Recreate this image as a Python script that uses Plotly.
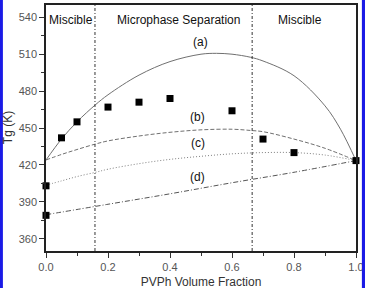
import plotly.graph_objects as go

# Experimental Tg data (squares)
exp_x = [0.0, 0.0, 0.05, 0.1, 0.2, 0.3, 0.4, 0.6, 0.7, 0.8, 1.0]
exp_y = [403, 379, 442, 455, 467, 471, 474, 464, 441, 430, 423.5]

# Theoretical curves
a_x = [0.0, 0.05, 0.1, 0.16, 0.2, 0.3, 0.4, 0.5, 0.55, 0.6, 0.66, 0.7, 0.8, 0.9, 0.95, 1.0]
a_y = [424, 441, 455, 469, 477, 493, 504, 510, 510.7, 510, 507.5, 504.5, 492.5, 468, 449, 423.5]

b_x = [0.0, 0.05, 0.1, 0.16, 0.2, 0.3, 0.4, 0.5, 0.6, 0.66, 0.7, 0.8, 0.9, 1.0]
b_y = [424, 428.5, 432.5, 437, 439.5, 443.5, 446.5, 448.5, 449, 448, 447, 441, 433.5, 423.5]

c_x = [0.0, 0.05, 0.1, 0.16, 0.2, 0.3, 0.4, 0.5, 0.6, 0.7, 0.8, 0.9, 1.0]
c_y = [403.5, 407, 410.5, 414, 416.5, 421, 424.5, 427, 429, 430, 430, 428, 423.5]

d_x = [0.0, 0.2, 0.4, 0.6, 0.8, 1.0]
d_y = [379.5, 388, 396.5, 405.5, 414, 423.5]

# Region boundaries
boundaries = [0.158, 0.665]

# Text labels
region_labels = ["Miscible", "Microphase Separation", "Miscible"]
region_x = [0.08, 0.426, 0.818]
region_y = [538, 538, 538]
curve_labels = ["(a)", "(b)", "(c)", "(d)"]
curve_lx = [0.498, 0.49, 0.49, 0.49]
curve_ly = [520, 459, 438, 410.5]

FONT = "Liberation Sans, Arial, sans-serif"

fig = go.Figure()
fig.add_trace(go.Scatter(x=a_x, y=a_y, mode="lines", line=dict(color="#707070", width=1, shape="spline")))
fig.add_trace(go.Scatter(x=b_x, y=b_y, mode="lines", line=dict(color="#707070", width=1, dash="4px,2px", shape="spline")))
fig.add_trace(go.Scatter(x=c_x, y=c_y, mode="lines", line=dict(color="#808080", width=1, dash="1px,2px", shape="spline")))
fig.add_trace(go.Scatter(x=d_x, y=d_y, mode="lines", line=dict(color="#555555", width=1, dash="5px,2px,1px,2px", shape="spline")))
fig.add_trace(go.Scatter(x=exp_x, y=exp_y, mode="markers", marker=dict(symbol="square", size=7, color="black"), cliponaxis=False))

for bx in boundaries:
    fig.add_shape(type="line", xref="x", yref="paper", x0=bx, x1=bx, y0=0, y1=1,
                  line=dict(color="#333333", width=1, dash="3px,2px,1px,2px"))

for t, x, y in zip(region_labels, region_x, region_y):
    fig.add_annotation(x=x, y=y, text=t, showarrow=False, font=dict(family=FONT, size=12, color="#111"))
for t, x, y in zip(curve_labels, curve_lx, curve_ly):
    fig.add_annotation(x=x, y=y, text=t, showarrow=False, font=dict(family=FONT, size=12, color="#111"))

# y-axis title placed as rotated text
fig.add_annotation(xref="paper", yref="paper", x=-0.122, y=0.5, xanchor="center", yanchor="middle",
                   text="Tg (K)", textangle=-90,
                   showarrow=False, font=dict(family=FONT, size=12, color="#333"))

# blue side borders
fig.add_shape(type="rect", xref="paper", yref="paper", x0=-0.149, x1=-0.139, y0=-0.15, y1=1.02,
              line=dict(width=0), fillcolor="#1a1ae6")
fig.add_shape(type="rect", xref="paper", yref="paper", x0=1.019, x1=1.029, y0=-0.15, y1=1.02,
              line=dict(width=0), fillcolor="#1a1ae6")

axis_common = dict(showline=True, linecolor="#222", linewidth=1.5, mirror=True, ticks="outside",
                   ticklen=5, tickwidth=1, tickcolor="#333", showgrid=False, zeroline=False,
                   tickfont=dict(family=FONT, size=11, color="#555"),
                   minor=dict(ticks="outside", ticklen=3, tickcolor="#333"))

fig.update_xaxes(range=[0, 1], tickvals=[0, 0.2, 0.4, 0.6, 0.8, 1.0], ticktext=["0.0", "0.2", "0.4", "0.6", "0.8", "1.0"],
                 title=dict(text="PVPh Volume Fraction", font=dict(family=FONT, size=12, color="#333"), standoff=6),
                 **axis_common)
fig.update_xaxes(minor=dict(dtick=0.1, tick0=0))
fig.update_yaxes(range=[350, 550], tickvals=[360, 390, 420, 450, 480, 510, 540], **axis_common)
fig.update_yaxes(minor=dict(dtick=15, tick0=0))

fig.update_layout(width=367, height=290, margin=dict(l=46, r=11, t=3, b=36),
                  paper_bgcolor="white", plot_bgcolor="white", showlegend=False)

fig.write_html("out.html")
